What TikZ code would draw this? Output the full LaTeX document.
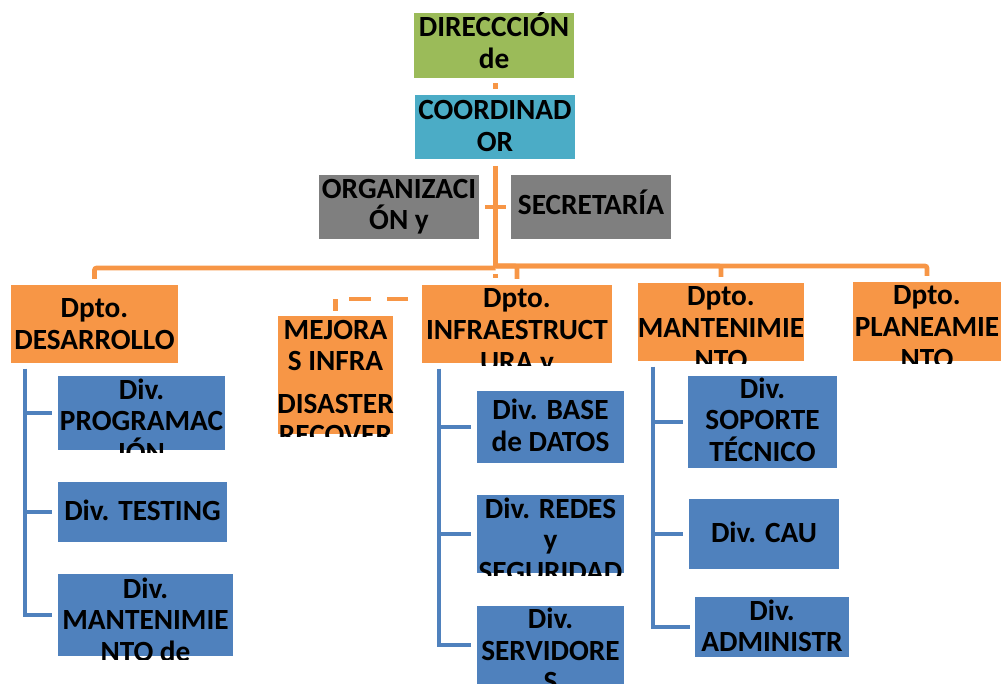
\documentclass[tikz,border=0pt]{standalone}
\usepackage{fontspec}
\setmainfont{Carlito}
\definecolor{corange}{HTML}{F79646}
\definecolor{cblue}{HTML}{4F81BD}
\definecolor{cgreen}{HTML}{9BBB59}
\definecolor{caqua}{HTML}{4BACC6}
\definecolor{cgray}{HTML}{7F7F7F}
\tikzset{
  orgbx/.style={draw=none, inner sep=0pt, outer sep=0pt, anchor=north west},
  orgtxt/.style={inner sep=0pt, outer sep=0pt, anchor=north, align=center, text=black,
    font=\fontsize{29.3}{31.7}\selectfont\bfseries},
  oline/.style={draw=corange, line width=4.6pt},
  bline/.style={draw=cblue, line width=4.6pt},
}
% name, x1, y1, x2, y2, fill, first baseline, text
\newcommand{\orgbox}[8]{%
  \node[orgbx, fill=#6, minimum width={(#4-#2)*1pt}, minimum height={(#5-#3)*1pt}] (#1) at (#2,#3) {};
  \begin{scope}
    \clip (#2,#3) rectangle (#4,#5+3);
    \node[orgtxt] (#1t) at ({(#2+#4)/2},#7-24) {\rule{0pt}{24pt}#8};
  \end{scope}}
\begin{document}
\begin{tikzpicture}[x=1pt,y=-1pt]
\useasboundingbox (0,0) rectangle (1005,684);

\orgbox{dir}{414}{13}{574}{78}{cgreen}{36}{DIRECCCIÓN\\de}
\orgbox{coord}{415}{95}{575}{159}{caqua}{120}{COORDINAD\\OR}
\orgbox{org}{319}{175}{479}{239}{cgray}{198.3}{ORGANIZACI\\ÓN y}
\orgbox{sec}{511}{175}{671}{239}{cgray}{214.3}{SECRETARÍA}
\orgbox{desa}{11}{285}{178}{363}{corange}{317.7}{Dpto.\\DESARROLLO}
\orgbox{mej}{278}{316}{393}{434}{corange}{339.3}{MEJORA\\S INFRA\\[10.6pt]DISASTER\\RECOVER\\Y}
\orgbox{infra}{422}{285}{612}{363}{corange}{308}{Dpto.\\INFRAESTRUCT\\URA y}
\orgbox{mant}{638}{283}{804}{361}{corange}{306}{Dpto.\\MANTENIMIE\\NTO}
\orgbox{plan}{853}{282}{1001}{361}{corange}{305}{Dpto.\\PLANEAMIE\\NTO}
\orgbox{prog}{58}{376}{225}{450}{cblue}{399.3}{Div.\\PROGRAMAC\\IÓN}
\orgbox{test}{58}{482}{227}{542}{cblue}{520.7}{Div. TESTING}
\orgbox{mantde}{58}{574}{233}{656}{cblue}{598.3}{Div.\\MANTENIMIE\\NTO de}
\orgbox{base}{477}{391}{624}{463}{cblue}{420}{Div. BASE\\de DATOS}
\orgbox{redes}{477}{495}{624}{573}{cblue}{518.3}{Div. REDES\\y\\SEGURIDAD}
\orgbox{serv}{477}{606}{624}{684}{cblue}{628.3}{Div.\\SERVIDORE\\S}
\orgbox{sop}{688}{376}{837}{468}{cblue}{398.3}{Div.\\SOPORTE\\TÉCNICO}
\orgbox{cau}{689}{499}{839}{569}{cblue}{542.7}{Div. CAU}
\orgbox{admin}{695}{597}{849}{657}{cblue}{620}{Div.\\ADMINISTR}

% orange connectors
\coordinate (hubL) at (495.5,268);
\coordinate (hubR) at (495.5,266);
\draw[oline, dash pattern=on 0pt off 5.3pt on 6pt off 30pt]
  ([xshift=1.5pt]dir.south) -- ([xshift=1.5pt]dir.south |- coord.north);
\draw[oline] ([xshift=0.5pt,yshift=-7pt]coord.south) -- (hubL);
\draw[oline] ([xshift=6pt]org.east) -- ([xshift=-5pt]sec.west);
\draw[oline, rounded corners=2pt] (hubL) -| ([yshift=6pt]desa.north);
\draw[oline, rounded corners=2pt] (hubR) -| ([yshift=6pt]infra.north);
\draw[oline, rounded corners=2pt] (hubR) -| ([yshift=6pt]mant.north);
\draw[oline, rounded corners=2pt] (hubR) -| ([yshift=6pt]plan.north);
\draw[oline, dash pattern=on 0pt off 8.5pt on 4pt off 30pt] (hubR) -- (hubR |- infra.north);
\draw[oline, dash pattern=on 0pt off 14pt on 21pt off 16pt on 22pt off 14pt on 12pt off 40pt]
  ([yshift=25pt]infra.west) -| (mej.north);

% blue brackets
\coordinate (dv) at ([xshift=14pt,yshift=-6pt]desa.south west);
\draw[bline] (dv) |- ([xshift=-6pt]prog.west);
\draw[bline] (dv) |- ([xshift=-6pt]test.west);
\draw[bline] (dv) |- ([xshift=-6pt]mantde.west);
\coordinate (iv) at ([xshift=17pt,yshift=-6pt]infra.south west);
\draw[bline] (iv) |- ([xshift=-6pt]base.west);
\draw[bline] (iv) |- ([xshift=-6pt]redes.west);
\draw[bline] (iv) |- ([xshift=-6pt]serv.west);
\coordinate (mv) at ([xshift=15pt,yshift=-6pt]mant.south west);
\draw[bline] (mv) |- ([xshift=-5pt]sop.west);
\draw[bline] (mv) |- ([xshift=-6pt]cau.west);
\draw[bline] (mv) |- ([xshift=-5pt]admin.west);
\end{tikzpicture}
\end{document}
